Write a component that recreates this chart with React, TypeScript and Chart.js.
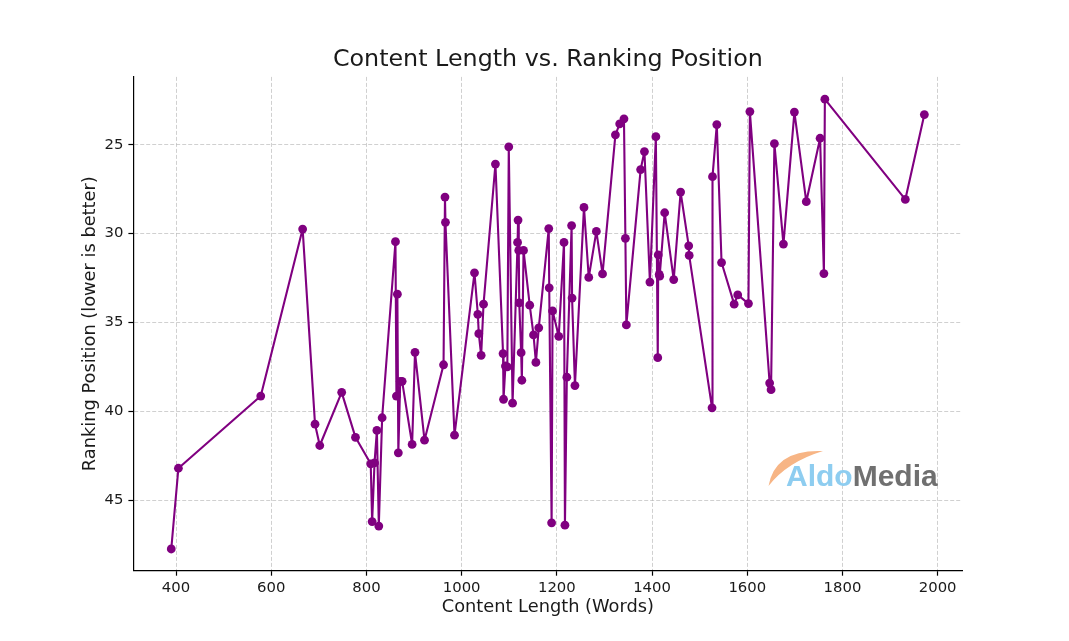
import React, { useEffect, useRef } from 'react';
import { Chart, registerables } from 'chart.js';

Chart.register(...registerables);

const contentLength = [
  390, 405, 578, 666, 692, 702, 748, 777, 809, 812, 817, 822, 826, 833,
  861, 863, 865, 867, 871, 875, 896, 902, 922, 962, 965, 966, 985,
  1027, 1034, 1036, 1041, 1046, 1071, 1087, 1088, 1092, 1096, 1099, 1107,
  1117.5, 1118.5, 1120, 1121, 1125, 1126.5, 1130, 1143, 1151, 1156, 1162,
  1183, 1184, 1189, 1191, 1204, 1215, 1217, 1221, 1231, 1232, 1238,
  1257, 1267, 1283, 1296, 1323, 1332, 1341, 1344, 1346, 1376, 1384,
  1395.5, 1408, 1412, 1413, 1415, 1416, 1426.5, 1445.5, 1460, 1477, 1478,
  1526, 1527, 1536, 1546, 1572.5, 1580, 1602.5, 1605.5, 1647, 1650, 1657,
  1676, 1699, 1724, 1753, 1761, 1763, 1932, 1972,
];

const rankingPosition = [
  47.74, 43.2, 39.14, 29.75, 40.72, 41.92, 38.93, 41.46, 42.95, 46.2, 42.9, 41.07, 46.45, 40.36,
  30.46, 39.14, 33.41, 42.33, 38.31, 38.31, 41.86, 36.68, 41.62, 37.38, 27.95, 29.37, 41.34,
  32.21, 34.54, 35.63, 36.85, 33.97, 26.09, 36.75, 39.32, 37.45, 37.5, 25.12, 39.54,
  30.5, 29.24, 30.95, 33.9, 36.7, 38.25, 30.95, 34.03, 35.7, 37.25, 35.3,
  29.72, 33.05, 46.27, 34.35, 35.78, 30.5, 46.4, 38.08, 29.55, 33.63, 38.55,
  28.53, 32.47, 29.88, 32.27, 24.45, 23.83, 23.55, 30.27, 35.14, 26.4, 25.39,
  32.73, 24.55, 36.98, 31.2, 32.3, 32.4, 28.83, 32.59, 27.67, 30.69, 31.23,
  39.8, 26.8, 23.87, 31.63, 33.97, 33.45, 33.94, 23.14, 38.41, 38.78, 24.94,
  30.59, 23.17, 28.21, 24.64, 32.25, 22.44, 28.08, 23.31,
];

const xTicks = [400, 600, 800, 1000, 1200, 1400, 1600, 1800, 2000];
const yTicks = [25, 30, 35, 40, 45];

const chartTitle = 'Content Length vs. Ranking Position';
const xAxisTitle = 'Content Length (Words)';
const yAxisTitle = 'Ranking Position (lower is better)';
const logoFirst = 'Aldo';
const logoSecond = 'Media';

const FONT = '"DejaVu Sans", sans-serif';
const TEXT = '#1a1a1a';
const PURPLE = '#800080';

const titlePlugin = {
  id: 'axesTitle',
  afterDraw(chart: any) {
    const ctx = chart.ctx as CanvasRenderingContext2D;
    const area = chart.chartArea;
    ctx.save();
    ctx.font = `23.8px ${FONT}`;
    ctx.fillStyle = TEXT;
    ctx.textAlign = 'center';
    ctx.textBaseline = 'middle';
    ctx.fillText(chartTitle, (area.left + area.right) / 2, 60);
    ctx.restore();
  },
};

const logoPlugin = {
  id: 'aldoLogo',
  afterDraw(chart: any) {
    const ctx = chart.ctx as CanvasRenderingContext2D;
    ctx.save();
    ctx.fillStyle = '#f7b585';
    ctx.beginPath();
    ctx.moveTo(768.5, 486);
    ctx.quadraticCurveTo(775, 449, 823, 451);
    ctx.quadraticCurveTo(787, 462, 768.5, 486);
    ctx.closePath();
    ctx.fill();
    ctx.font = 'bold 30px "Liberation Sans", sans-serif';
    ctx.textBaseline = 'alphabetic';
    ctx.textAlign = 'left';
    ctx.fillStyle = '#8ecdf0';
    ctx.fillText(logoFirst, 786, 486);
    const w = ctx.measureText(logoFirst).width;
    ctx.fillStyle = '#707070';
    ctx.fillText(logoSecond, 786 + w, 486);
    ctx.restore();
  },
};

const gridOpts: any = {
  color: 'rgba(176,176,176,0.6)',
  lineWidth: 1,
  borderDash: [4, 2],
  tickBorderDash: [],
  tickColor: '#000',
  tickLength: 5.2,
  tickWidth: 1.2,
};

const borderOpts: any = { display: true, color: '#000', width: 1.2, dash: [4, 2] };

export default function App() {
  const canvasRef = useRef<HTMLCanvasElement | null>(null);

  useEffect(() => {
    document.body.style.margin = '0';
    const canvas = canvasRef.current;
    if (!canvas) return;
    const data = contentLength.map((x, i) => ({ x, y: rankingPosition[i] }));
    const chart = new Chart(canvas, {
      type: 'line',
      data: {
        datasets: [
          {
            data,
            borderColor: PURPLE,
            backgroundColor: PURPLE,
            borderWidth: 2.1,
            borderJoinStyle: 'round',
            borderCapStyle: 'round',
            pointRadius: 4.4,
            pointBorderWidth: 0,
            pointBackgroundColor: PURPLE,
            pointHoverRadius: 4.4,
            tension: 0,
            fill: false,
            clip: false as any,
          },
        ],
      },
      plugins: [titlePlugin, logoPlugin],
      options: {
        responsive: false,
        animation: false,
        devicePixelRatio: 1,
        layout: { padding: { left: 0, top: 76.9, right: 106.9, bottom: 0 } },
        plugins: {
          legend: { display: false },
          tooltip: { enabled: false },
          title: { display: false },
        },
        scales: {
          x: {
            type: 'linear',
            min: 310.9,
            max: 2051.3,
            afterFit(scale: any) {
              scale.height = 70.5;
            },
            afterBuildTicks(scale: any) {
              scale.ticks = xTicks.map((v) => ({ value: v }));
            },
            ticks: {
              color: TEXT,
              font: { family: FONT, size: 14.85 },
              padding: 4,
              maxRotation: 0,
              autoSkip: false,
              callback: (v: any) => String(v),
            },
            grid: gridOpts,
            border: borderOpts,
            title: {
              display: true,
              text: xAxisTitle,
              color: TEXT,
              font: { family: FONT, size: 17.8, lineHeight: 1.2 },
              padding: { top: 0, bottom: 23.3 },
            },
          },
          y: {
            type: 'linear',
            reverse: true,
            min: 21.19,
            max: 48.95,
            afterFit(scale: any) {
              scale.width = 133.6;
            },
            afterBuildTicks(scale: any) {
              scale.ticks = yTicks.map((v) => ({ value: v }));
            },
            ticks: {
              color: TEXT,
              font: { family: FONT, size: 14.85 },
              padding: 5,
              autoSkip: false,
              callback: (v: any) => String(v),
            },
            grid: gridOpts,
            border: borderOpts,
            title: {
              display: true,
              text: yAxisTitle,
              color: TEXT,
              font: { family: FONT, size: 17.8, lineHeight: 1.2 },
              padding: { top: 79.3, bottom: 0 },
            },
          },
        },
      } as any,
    });
    return () => chart.destroy();
  }, []);

  return (
    <div style={{ width: 1069, height: 641, background: '#fff' }}>
      <canvas ref={canvasRef} width={1069} height={641} style={{ display: 'block' }} />
    </div>
  );
}
